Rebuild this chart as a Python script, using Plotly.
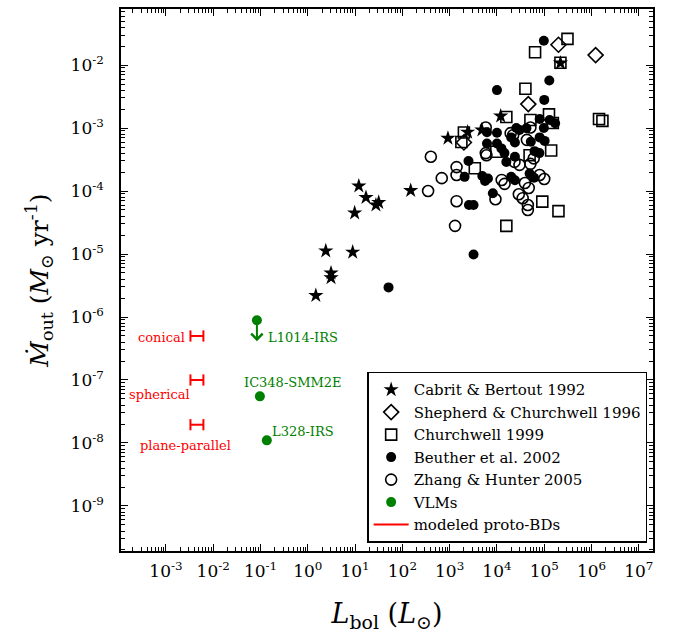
import numpy as np
import plotly.graph_objects as go

# ---- Outflow data: bolometric luminosity (L_sun) and mass outflow rate (M_sun / yr) ----
cabrit_L = [1.48, 3.1, 3.1, 2.4, 8.9, 9.8, 12, 17, 27.6, 31.6, 150, 920, 2.4e3, 4.8e3, 1.2e4, 2.2e5]
cabrit_M = [2.2e-6, 4.2e-6, 5.0e-6, 1.12e-5, 1.07e-5, 4.5e-5, 1.2e-4, 7.9e-5, 6.0e-5, 6.6e-5,
            1.02e-4, 6.9e-4, 8.6e-4, 9.3e-4, 1.55e-3, 1.08e-2]

shepherd_L = [2.0e5, 1.22e6, 4.6e4, 2.0e3]
shepherd_M = [2.1e-2, 1.44e-2, 2.4e-3, 5.9e-4]

churchwell_L = [3.1e5, 6.4e4, 2.2e5, 4.0e4, 1.26e5, 1.58e4, 1.44e6, 1.7e6, 1.52e5, 5.1e4,
                2.0e3, 1.77e3, 9.7e3, 1.4e5, 3.4e3, 9.1e4, 2.0e5, 1.58e4, 4.9e4]
churchwell_M = [2.6e-2, 1.6e-2, 1.09e-2, 4.2e-3, 1.65e-3, 1.5e-3, 1.39e-3, 1.3e-3, 1.2e-3, 1.34e-3,
                8.5e-4, 6.0e-4, 4.2e-4, 4.4e-4, 2.3e-4, 6.8e-5, 4.8e-5, 2.8e-5, 3.7e-4]

beuther_L = [9.8e4, 1.28e5, 1.0e4, 1.0e5, 8.0e4, 1.3e5, 2.57e4, 4.2e4, 9.8e4, 6.15e3,
             1.0e4, 6.15e3, 1.0e4, 2.0e4, 8.0e4, 5.2e4, 1.24e4, 6.25e4, 2.5e3, 1.58e4,
             2.07e3, 4.9e3, 6.45e3, 2.56e3, 3.2e3, 3.2e3, 8.2e3, 2.0e4, 4.9e4, 51,
             3.0e4, 1.7e5, 1.44e4, 2.4e4, 1.02e5, 7.9e4, 2.4e4, 5.6e3, 2.4e4, 6.1e4]
beuther_M = [2.43e-2, 5.7e-3, 4.0e-3, 2.8e-3, 1.39e-3, 1.34e-3, 1.0e-3, 9.9e-4, 1.0e-3, 8.6e-4,
             8.4e-4, 5.7e-4, 5.7e-4, 7.1e-4, 7.1e-4, 6.05e-4, 4.75e-4, 4.3e-4, 3.0e-4, 2.9e-4,
             1.68e-4, 1.73e-4, 1.58e-4, 6.0e-5, 6.0e-5, 9.8e-6, 9.2e-5, 1.68e-4, 1.9e-4, 2.95e-6,
             9.3e-4, 1.19e-3, 4.0e-4, 5.9e-4, 6.25e-4, 4.0e-4, 3.5e-4, 1.44e-4, 1.48e-4, 1.63e-4]

zhang_L = [4.0e2, 3.5e2, 6.8e2, 1.3e3, 1.4e3, 1.4e3, 1.4e3, 5.8e3, 5.8e3, 9.3e3,
           1.26e4, 1.95e4, 2.35e4, 2.9e4, 3.9e4, 4.3e4, 4.5e4, 4.5e4, 5.1e4, 5.1e4,
           8.0e4, 6.0e3, 3.0e4, 1.0e5, 4.7e4, 6.0e4, 2.2e4, 1.45e4, 3.5e4]
zhang_M = [3.5e-4, 1.0e-4, 1.6e-4, 2.8e-5, 2.4e-4, 1.8e-4, 6.9e-5, 1.02e-3, 4.0e-4, 7.4e-5,
           1.5e-4, 8.3e-4, 2.9e-4, 8.9e-5, 1.34e-4, 6.5e-4, 6.0e-5, 5.0e-5, 1.02e-3, 2.7e-4,
           1.8e-4, 3.7e-4, 2.6e-4, 1.55e-4, 1.12e-4, 3.3e-4, 7.7e-4, 1.3e-4, 7.7e-5]

# Very low mass objects
vlm_names = ["L1014-IRS", "IC348-SMM2E", "L328-IRS"]
vlm_L = [0.084, 0.097, 0.136]
vlm_M = [8.9e-7, 5.5e-8, 1.1e-8]
vlm_upper_limit = [True, False, False]

# Modeled proto-brown-dwarf outflows: luminosity span and outflow rate per geometry
model_names = ["conical", "spherical", "plane-parallel"]
model_L_low = [3.3e-3, 3.3e-3, 3.3e-3]
model_L_high = [6.2e-3, 6.2e-3, 6.2e-3]
model_M = [5.0e-7, 1.0e-7, 1.95e-8]

# Axis ticks
x_tick_vals = [1e-3, 1e-2, 1e-1, 1e0, 1e1, 1e2, 1e3, 1e4, 1e5, 1e6, 1e7]
x_tick_text = ["10<sup>-3</sup>", "10<sup>-2</sup>", "10<sup>-1</sup>", "10<sup>0</sup>",
               "10<sup>1</sup>", "10<sup>2</sup>", "10<sup>3</sup>", "10<sup>4</sup>",
               "10<sup>5</sup>", "10<sup>6</sup>", "10<sup>7</sup>"]
y_tick_vals = [1e-9, 1e-8, 1e-7, 1e-6, 1e-5, 1e-4, 1e-3, 1e-2]
y_tick_text = ["10<sup>-9</sup>", "10<sup>-8</sup>", "10<sup>-7</sup>", "10<sup>-6</sup>",
               "10<sup>-5</sup>", "10<sup>-4</sup>", "10<sup>-3</sup>", "10<sup>-2</sup>"]

SERIF = "DejaVu Serif, serif"
GREEN = "#008000"
RED = "#ff0000"

fig = go.Figure()

fig.add_trace(go.Scatter(
    x=cabrit_L, y=cabrit_M, mode="markers", name="Cabrit &amp; Bertout 1992",
    marker=dict(symbol="star", size=11.5, color="black", line=dict(width=0))))
fig.add_trace(go.Scatter(
    x=shepherd_L, y=shepherd_M, mode="markers", name="Shepherd &amp; Churchwell 1996",
    marker=dict(symbol="diamond-open", size=11.5, color="black", line=dict(width=1.6))))
fig.add_trace(go.Scatter(
    x=churchwell_L, y=churchwell_M, mode="markers", name="Churchwell 1999",
    marker=dict(symbol="square-open", size=11, color="black", line=dict(width=1.6))))
fig.add_trace(go.Scatter(
    x=beuther_L, y=beuther_M, mode="markers", name="Beuther et al. 2002",
    marker=dict(symbol="circle", size=10, color="black", line=dict(width=0))))
fig.add_trace(go.Scatter(
    x=zhang_L, y=zhang_M, mode="markers", name="Zhang &amp; Hunter 2005",
    marker=dict(symbol="circle-open", size=11, color="black", line=dict(width=1.6))))
fig.add_trace(go.Scatter(
    x=vlm_L, y=vlm_M, mode="markers", name="VLMs",
    marker=dict(symbol="circle", size=10, color=GREEN, line=dict(width=0))))

# Model luminosity ranges drawn as horizontal bars with end caps
seg_x, seg_y, cap_x, cap_y = [], [], [], []
for lo, hi, m in zip(model_L_low, model_L_high, model_M):
    seg_x += [lo, hi, None]
    seg_y += [m, m, None]
    cap_x += [lo, hi]
    cap_y += [m, m]
fig.add_trace(go.Scatter(
    x=seg_x, y=seg_y, mode="lines", name="modeled proto-BDs",
    line=dict(color=RED, width=2)))
fig.add_trace(go.Scatter(
    x=cap_x, y=cap_y, mode="markers", showlegend=False, hoverinfo="skip",
    marker=dict(symbol="line-ns-open", size=8, color=RED, line=dict(width=2, color=RED))))

annotations = []
# VLM labels, offset from each source position
vlm_label_shift = [(9, -17, "left"), (-18, 14, "left"), (3, 9, "left")]
for name, L, M, (dx, dy, anc) in zip(vlm_names, vlm_L, vlm_M, vlm_label_shift):
    annotations.append(dict(
        x=np.log10(L), y=np.log10(M), xref="x", yref="y", text=name, showarrow=False,
        xanchor=anc, yanchor="middle", xshift=dx, yshift=dy,
        font=dict(family=SERIF, size=13, color=GREEN)))
# Upper-limit arrows
for L, M, lim in zip(vlm_L, vlm_M, vlm_upper_limit):
    if lim:
        annotations.append(dict(
            x=np.log10(L), y=np.log10(M), xref="x", yref="y", text="",
            showarrow=True, ax=0, ay=-21, yshift=-21, arrowhead=4, arrowsize=1.1,
            arrowwidth=2, arrowcolor=GREEN))
# Model geometry labels, placed left of each bar
model_label_shift = [(-61, -2), (-70, -15), (-59, -21)]
for name, lo, hi, m, (dx, dy) in zip(model_names, model_L_low, model_L_high, model_M, model_label_shift):
    annotations.append(dict(
        x=(np.log10(lo) + np.log10(hi)) / 2, y=np.log10(m), xref="x", yref="y", text=name,
        showarrow=False, xanchor="left", yanchor="middle", xshift=dx, yshift=dy,
        font=dict(family=SERIF, size=13, color=RED)))

axis_common = dict(
    type="log", showgrid=False, zeroline=False, showline=True, linecolor="black",
    linewidth=1.5, mirror="ticks", ticks="inside", ticklen=7, tickwidth=1.3,
    tickcolor="black", tickmode="array",
    tickfont=dict(family=SERIF, size=17, color="black"),
    automargin=False,
)

x_minor = [k * 10.0 ** e for e in range(-4, 8) for k in range(2, 10)]
y_minor = [k * 10.0 ** e for e in range(-10, -1) for k in range(2, 10)]

fig.update_xaxes(
    **axis_common, range=[-3.95, 7.3], tickvals=x_tick_vals, ticktext=x_tick_text,
    ticklabelstandoff=4,
    minor=dict(tickmode="array", tickvals=x_minor, ticks="inside", ticklen=4,
               tickwidth=1, tickcolor="black", showgrid=False),
    title=dict(text="<i>L</i><sub>bol</sub> (<i>L</i><sub>⊙</sub>)",
               font=dict(family=SERIF, size=27, color="black"), standoff=26),
)
fig.update_yaxes(
    **axis_common, range=[-9.715, -1.11], tickvals=y_tick_vals, ticktext=y_tick_text,
    ticklabelstandoff=12,
    minor=dict(tickmode="array", tickvals=y_minor, ticks="inside", ticklen=4,
               tickwidth=1, tickcolor="black", showgrid=False),
    title=dict(text="<i>Ṁ</i><sub>out</sub> (<i>M</i><sub>⊙</sub> yr<sup>-1</sup>)",
               font=dict(family=SERIF, size=25, color="black"), standoff=15),
)

fig.update_layout(
    width=673, height=633,
    margin=dict(l=121, r=20, t=9, b=82),
    paper_bgcolor="white", plot_bgcolor="white",
    font=dict(family=SERIF, color="black"),
    showlegend=True,
    legend=dict(
        x=0.989, y=0.015, xanchor="right", yanchor="bottom",
        bgcolor="white", bordercolor="black", borderwidth=1.5,
        font=dict(family=SERIF, size=15, color="black"),
        itemwidth=35, tracegroupgap=0,
    ),
    annotations=annotations,
)

fig.write_html("out.html")
